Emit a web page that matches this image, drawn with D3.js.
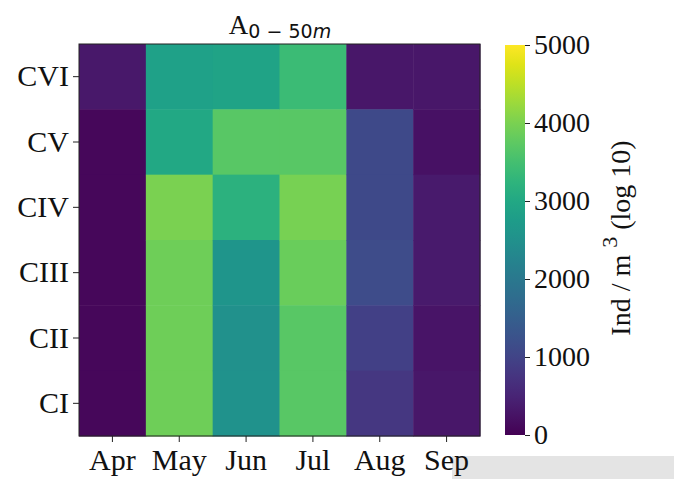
<!DOCTYPE html>
<html>
<head>
<meta charset="utf-8">
<script src="https://cdn.jsdelivr.net/npm/d3@7"></script>
<style>
  body { margin: 0; background: #fff; }
  svg { display: block; }
</style>
</head>
<body>
<div id="chart-area"></div>
<script>
const W = 674, H = 479
const MARGIN = { LEFT: 79, TOP: 44 }
const PLOT_W = 401, PLOT_H = 392

// data (rows top -> bottom)
const months = ["Apr", "May", "Jun", "Jul", "Aug", "Sep"]
const stages = ["CVI", "CV", "CIV", "CIII", "CII", "CI"]
const vApr = [330, 80, 80, 80, 80, 80]
const vMay = [2850, 3000, 4000, 3900, 3900, 3900]
const vJun = [2900, 3700, 3200, 2600, 2500, 2550]
const vJul = [3400, 3700, 3980, 3850, 3700, 3700]
const vAug = [300, 1100, 1100, 1150, 950, 800]
const vSep = [300, 220, 350, 350, 260, 300]
const cbTicks = [0, 1000, 2000, 3000, 4000, 5000]

const columns = [vApr, vMay, vJun, vJul, vAug, vSep]
const cells = []
months.forEach((m, i) => {
  stages.forEach((s, j) => cells.push({ month: m, stage: s, value: columns[i][j] }))
})

const svg = d3.select("#chart-area").append("svg")
  .attr("width", W)
  .attr("height", H)

const serif = "'Liberation Serif', 'Times New Roman', serif"

// screenshot grey strip at the bottom right
svg.append("rect")
  .attr("x", 452).attr("y", 456)
  .attr("width", W - 452).attr("height", H - 456)
  .attr("fill", "#e4e4e4")

const g = svg.append("g")
  .attr("transform", `translate(${MARGIN.LEFT},${MARGIN.TOP})`)

const x = d3.scaleBand().domain(months).range([0, PLOT_W])
const y = d3.scaleBand().domain(stages).range([0, PLOT_H])
const color = d3.scaleSequential(d3.interpolateViridis).domain([0, 5000])

g.selectAll("rect.cell")
  .data(cells)
  .join("rect")
  .attr("class", "cell")
  .attr("x", d => x(d.month))
  .attr("y", d => y(d.stage))
  .attr("width", x.bandwidth() + 0.5)
  .attr("height", y.bandwidth() + 0.5)
  .attr("fill", d => color(d.value))

g.append("rect")
  .attr("width", PLOT_W).attr("height", PLOT_H)
  .attr("fill", "none").attr("stroke", "#222").attr("stroke-width", 1)

// axes
const xAx = g.append("g")
  .attr("transform", `translate(0,${PLOT_H})`)
  .call(d3.axisBottom(x).tickSize(6).tickPadding(5))
const yAx = g.append("g")
  .call(d3.axisLeft(y).tickSize(6).tickPadding(4))

;[xAx, yAx].forEach(a => {
  a.select(".domain").remove()
  a.selectAll("line").attr("stroke", "#222")
  a.selectAll("text")
    .attr("fill", "#111")
    .style("font-family", serif)
    .style("font-size", "30px")
})
xAx.selectAll("text").attr("dy", "0.75em")

// title A_{0-50m}
const title = svg.append("text")
  .attr("x", 280).attr("y", 34)
  .attr("text-anchor", "middle")
  .attr("fill", "#111")
title.append("tspan").text("A")
  .style("font-family", serif).style("font-size", "27px")
title.append("tspan").text("0 − 50")
  .attr("dy", 4)
  .style("font-family", "'DejaVu Sans', sans-serif").style("font-size", "19px")
title.append("tspan").text("m")
  .style("font-family", "'DejaVu Sans', sans-serif").style("font-size", "19px")
  .style("font-style", "italic")

// colorbar
const CB = { X: 505, Y: 45, W: 20, H: 390 }
const defs = svg.append("defs")
const grad = defs.append("linearGradient")
  .attr("id", "viridis")
  .attr("x1", 0).attr("y1", 1).attr("x2", 0).attr("y2", 0)
d3.range(0, 1.0001, 0.05).forEach(t => {
  grad.append("stop").attr("offset", t).attr("stop-color", d3.interpolateViridis(t))
})
svg.append("rect")
  .attr("x", CB.X).attr("y", CB.Y)
  .attr("width", CB.W).attr("height", CB.H)
  .attr("fill", "url(#viridis)")

const cbScale = d3.scaleLinear().domain([0, 5000]).range([CB.Y + CB.H, CB.Y])
const cbAx = svg.append("g")
  .attr("transform", `translate(${CB.X + CB.W},0)`)
  .call(d3.axisRight(cbScale).tickValues(cbTicks).tickFormat(d3.format("d")).tickSize(5).tickPadding(4))
cbAx.select(".domain").remove()
cbAx.selectAll("line").attr("stroke", "#222")
cbAx.selectAll("text")
  .attr("fill", "#111")
  .style("font-family", serif)
  .style("font-size", "28px")

// colorbar label
const lab = svg.append("text")
  .attr("transform", `translate(630,238) rotate(-90)`)
  .attr("text-anchor", "middle")
  .attr("fill", "#111")
  .style("font-family", serif)
  .style("font-size", "28px")
lab.append("tspan").text("Ind / m ")
lab.append("tspan").text("3").attr("dy", -13).style("font-size", "22px")
lab.append("tspan").text("  (log 10)").attr("dy", 13)
</script>
</body>
</html>
